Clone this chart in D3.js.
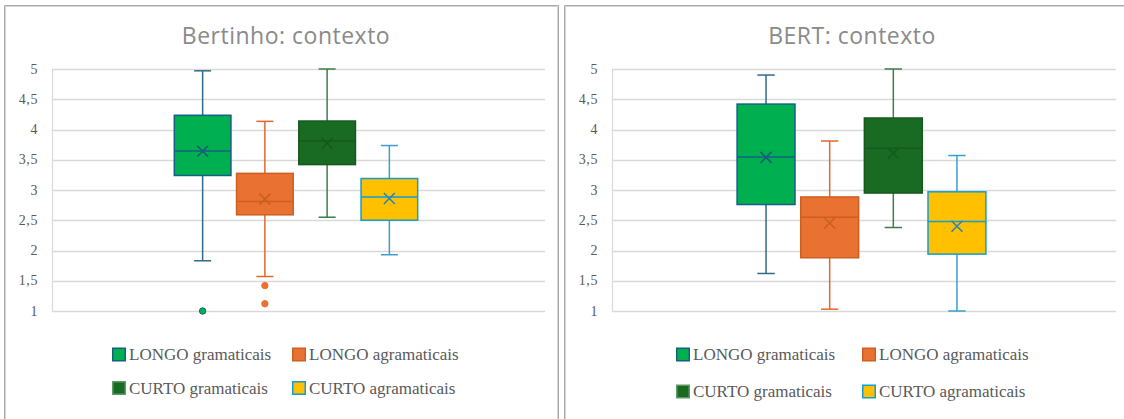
<!DOCTYPE html>
<html>
<head>
<meta charset="utf-8">
<script src="https://cdn.jsdelivr.net/npm/d3@7"></script>
<style>
  html, body { margin: 0; padding: 0; background: #ffffff; }
  svg { display: block; }
</style>
</head>
<body>
<svg id="chart" width="1124" height="419"></svg>
<script>
// Series shown in both panels
const seriesNames = ["LONGO gramaticais", "LONGO agramaticais", "CURTO gramaticais", "CURTO agramaticais"];
const yTicks = [1, 1.5, 2, 2.5, 3, 3.5, 4, 4.5, 5];

// Bertinho: contexto — five-number summaries, means and outliers per series
const bertinhoMin    = [1.83, 1.57, 2.55, 1.93];
const bertinhoQ1     = [3.24, 2.59, 3.42, 2.50];
const bertinhoMedian = [3.645, 2.81, 3.81, 2.885];
const bertinhoQ3     = [4.235, 3.275, 4.14, 3.19];
const bertinhoMax    = [4.97, 4.135, 5.00, 3.735];
const bertinhoMean   = [3.64, 2.85, 3.77, 2.86];
const bertinhoOutliers = [[1.00], [1.42, 1.12], [], []];

// BERT: contexto
const bertMin    = [1.62, 1.03, 2.38, 1.00];
const bertQ1     = [2.76, 1.88, 2.95, 1.94];
const bertMedian = [3.545, 2.55, 3.69, 2.48];
const bertQ3     = [4.42, 2.885, 4.19, 2.97];
const bertMax    = [4.90, 3.81, 5.00, 3.57];
const bertMean   = [3.54, 2.455, 3.61, 2.40];
const bertOutliers = [[], [], [], []];

// Styling per series
const fills   = ["#00B050", "#E97132", "#196B24", "#FFC000"];
const strokes = ["#156082", "#CC5F22", "#145A1D", "#0F9ED5"];
const whisk   = ["#2F6A88", "#E0692A", "#3C7F48", "#3A9FCE"];
const marks   = ["#1B5A78", "#C9601F", "#145A1D", "#2A86AE"];

const svg = d3.select("#chart");

function buildRows(mins, q1s, meds, q3s, maxs, means, outs) {
  return seriesNames.map((name, i) => ({
    name, i, min: mins[i], q1: q1s[i], med: meds[i], q3: q3s[i], max: maxs[i], mean: means[i], outliers: outs[i]
  }));
}

const panels = [
  {
    title: "Bertinho: contexto",
    frame: { x0: 4.5, x1: 558.5 },
    plot: { left: 52, right: 545, top: 69, bottom: 311 },
    titleX: 286,
    legend: { x: 112, y: 347.5, colStep: 180, rowStep: 33.5 },
    rows: buildRows(bertinhoMin, bertinhoQ1, bertinhoMedian, bertinhoQ3, bertinhoMax, bertinhoMean, bertinhoOutliers)
  },
  {
    title: "BERT: contexto",
    frame: { x0: 564.5, x1: 1140 },
    plot: { left: 612, right: 1116, top: 69, bottom: 311 },
    titleX: 852,
    legend: { x: 676, y: 347.5, colStep: 186, rowStep: 37 },
    rows: buildRows(bertMin, bertQ1, bertMedian, bertQ3, bertMax, bertMean, bertOutliers)
  }
];

panels.forEach(p => {
  const g = svg.append("g");

  // Chart frame: darker outer line with a lighter inner line
  g.append("path")
    .attr("d", `M${p.frame.x0},430 V5.5 H${p.frame.x1} V430`)
    .attr("fill", "none").attr("stroke", "#a9a9a9").attr("stroke-width", 1);
  g.append("path")
    .attr("d", `M${p.frame.x0 + 1},430 V6.5 H${p.frame.x1 - 1} V430`)
    .attr("fill", "none").attr("stroke", "#d6d6d6").attr("stroke-width", 1);

  // Title
  g.append("text")
    .attr("x", p.titleX).attr("y", 43.5)
    .attr("text-anchor", "middle")
    .style("font-family", "'Open Sans', sans-serif")
    .style("font-size", "23px")
    .style("letter-spacing", "0.5px")
    .style("fill", "#8a8a8a")
    .text(p.title);

  const y = d3.scaleLinear().domain([1, 5]).range([p.plot.bottom, p.plot.top]);

  // Single category spread over the plot, series side by side within it
  const cat = d3.scaleBand().domain(["contexto"]).range([p.plot.left, p.plot.right]).paddingOuter(0.49);
  const groupStart = cat("contexto") - 2.5;
  const x = d3.scaleBand().domain(seriesNames)
    .range([groupStart, groupStart + cat.bandwidth()])
    .paddingInner(0.09).paddingOuter(0.045);
  const bw = x.bandwidth();

  // Gridlines
  g.append("g").selectAll("line").data(yTicks).join("line")
    .attr("x1", p.plot.left).attr("x2", p.plot.right)
    .attr("y1", d => Math.round(y(d)) + 0.5).attr("y2", d => Math.round(y(d)) + 0.5)
    .attr("stroke", "#d9d9d9").attr("stroke-width", 1.3);

  // Vertical axis line
  g.append("line")
    .attr("x1", p.plot.left + 0.5).attr("x2", p.plot.left + 0.5)
    .attr("y1", y(5)).attr("y2", y(1) + 1)
    .attr("stroke", "#d9d9d9").attr("stroke-width", 1.2);

  // Value axis labels
  const axis = d3.axisLeft(y).tickValues(yTicks).tickSize(0).tickPadding(14)
    .tickFormat(d => String(d).replace(".", ","));
  const ax = g.append("g").attr("transform", `translate(${p.plot.left},0)`).call(axis);
  ax.attr("font-family", null).attr("font-size", null);
  ax.select(".domain").remove();
  ax.selectAll("text")
    .attr("dy", "0.3em")
    .style("font-family", "'Liberation Serif', 'Times New Roman', serif")
    .style("font-size", "14px")
    .style("letter-spacing", "0.6px")
    .style("fill", "#595959");

  const boxes = g.append("g").selectAll("g").data(p.rows).join("g");

  // Whisker stems
  boxes.append("line")
    .attr("x1", d => x(d.name) + bw / 2).attr("x2", d => x(d.name) + bw / 2)
    .attr("y1", d => y(d.max)).attr("y2", d => y(d.q3))
    .attr("stroke", d => whisk[d.i]).attr("stroke-width", 1.5);
  boxes.append("line")
    .attr("x1", d => x(d.name) + bw / 2).attr("x2", d => x(d.name) + bw / 2)
    .attr("y1", d => y(d.q1)).attr("y2", d => y(d.min))
    .attr("stroke", d => whisk[d.i]).attr("stroke-width", 1.5);

  // Whisker caps
  const capHalf = bw * 0.15;
  boxes.selectAll("line.cap").data(d => [[d, d.max], [d, d.min]]).join("line")
    .attr("class", "cap")
    .attr("x1", ([d]) => x(d.name) + bw / 2 - capHalf)
    .attr("x2", ([d]) => x(d.name) + bw / 2 + capHalf)
    .attr("y1", ([, v]) => y(v)).attr("y2", ([, v]) => y(v))
    .attr("stroke", ([d]) => whisk[d.i]).attr("stroke-width", 1.5);

  // Box from Q1 to Q3
  boxes.append("rect")
    .attr("x", d => x(d.name)).attr("width", bw)
    .attr("y", d => y(d.q3)).attr("height", d => y(d.q1) - y(d.q3))
    .attr("fill", d => fills[d.i])
    .attr("stroke", d => strokes[d.i]).attr("stroke-width", 1.5);

  // Median line
  boxes.append("line")
    .attr("x1", d => x(d.name)).attr("x2", d => x(d.name) + bw)
    .attr("y1", d => y(d.med)).attr("y2", d => y(d.med))
    .attr("stroke", d => strokes[d.i]).attr("stroke-width", 1.5);

  // Mean marker (x)
  const m = 5.5;
  boxes.append("path")
    .attr("d", d => {
      const cx = x(d.name) + bw / 2, cy = y(d.mean);
      return `M${cx - m},${cy - m}L${cx + m},${cy + m}M${cx - m},${cy + m}L${cx + m},${cy - m}`;
    })
    .attr("fill", "none")
    .attr("stroke", d => marks[d.i]).attr("stroke-width", 1.6);

  // Outlier points
  boxes.selectAll("circle").data(d => d.outliers.map(v => [d, v])).join("circle")
    .attr("cx", ([d]) => x(d.name) + bw / 2)
    .attr("cy", ([, v]) => y(v))
    .attr("r", 3.2)
    .attr("fill", ([d]) => fills[d.i])
    .attr("stroke", ([d]) => d.i === 0 ? strokes[d.i] : fills[d.i])
    .attr("stroke-width", 1);

  // Legend, two columns by two rows
  const leg = g.append("g").selectAll("g").data(seriesNames).join("g")
    .attr("transform", (d, i) =>
      `translate(${p.legend.x + (i % 2) * p.legend.colStep},${p.legend.y + Math.floor(i / 2) * p.legend.rowStep})`);
  leg.append("rect")
    .attr("x", 0.75).attr("y", 0.75).attr("width", 12.5).attr("height", 12.5)
    .attr("fill", (d, i) => fills[i])
    .attr("stroke", (d, i) => i === 2 ? "#5f9a68" : strokes[i])
    .attr("stroke-width", 1.5);
  leg.append("text")
    .attr("x", 17).attr("y", 12.5)
    .style("font-family", "'Liberation Serif', 'Times New Roman', serif")
    .style("font-size", "17px")
    .style("fill", "#595959")
    .text(d => d);
});
</script>
</body>
</html>
